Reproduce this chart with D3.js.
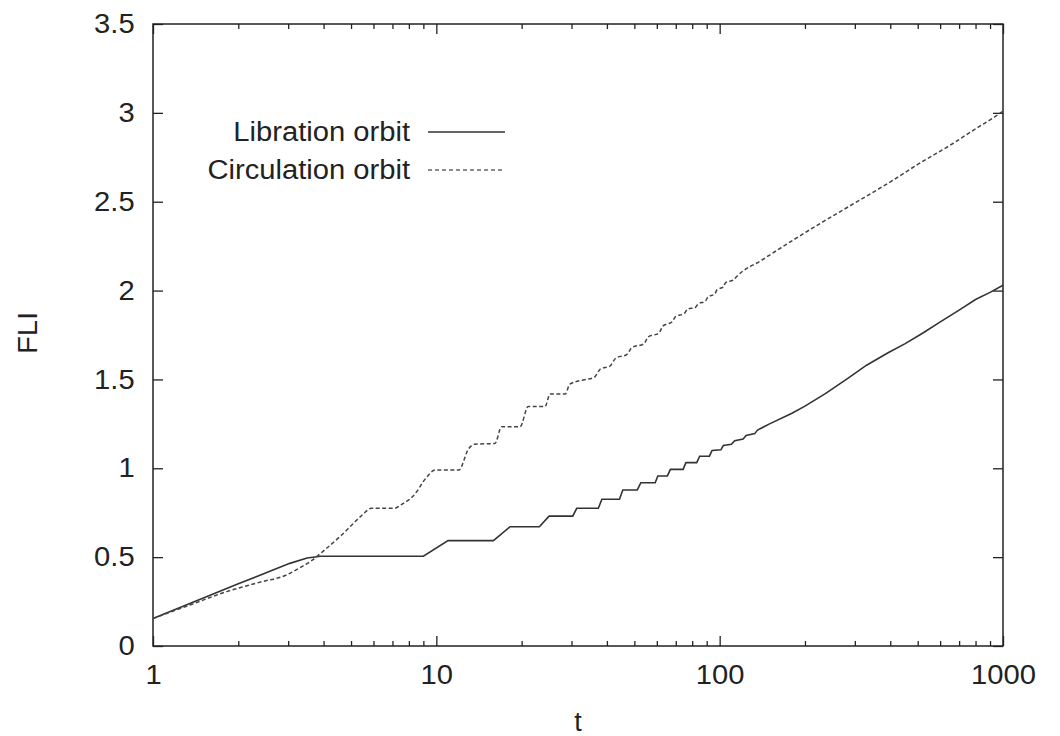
<!DOCTYPE html>
<html>
<head>
<meta charset="utf-8">
<script src="https://cdn.jsdelivr.net/npm/d3@7"></script>
<style>
  body { margin: 0; background: #fff; }
  text { font-family: "Liberation Sans", Arial, sans-serif; fill: #222; }
</style>
</head>
<body>
<div id="wrapper"></div>
<script>

// values

const librationT = [1, 2, 3.04, 3.5, 3.9, 9.0, 11.0, 15.9, 18.2, 23.1, 25.0, 30.3, 31.3, 37.3, 38.4, 44.3, 45.5, 51.2,
  52.7, 59.2, 60.5, 65.4, 67, 74.3, 76, 83, 85, 92, 94, 101, 103, 110, 113, 121, 124, 133, 136,
  150, 180, 200, 236, 280, 330, 393, 450, 520, 595, 700, 800, 900, 1000];
const librationFLI = [0.155, 0.35, 0.465, 0.495, 0.505, 0.505, 0.593, 0.593, 0.671, 0.671, 0.731, 0.731, 0.775, 0.775, 0.826, 0.826, 0.878, 0.878,
  0.919, 0.919, 0.957, 0.957, 0.994, 0.994, 1.032, 1.032, 1.068, 1.068, 1.100, 1.104, 1.128, 1.135, 1.155, 1.165, 1.185, 1.195, 1.215,
  1.25, 1.31, 1.35, 1.42, 1.50, 1.58, 1.65, 1.70, 1.76, 1.82, 1.89, 1.95, 1.99, 2.03];

const circulationT = [1, 1.4, 1.82, 2.4, 2.96, 3.3, 3.58, 4.1, 4.6, 5.1, 5.5, 5.9, 7.1, 7.6, 8.3, 9.25, 9.9, 12.0, 13.0, 13.6,
  16.1, 17.0, 19.75, 21.1, 24.2, 25.2, 28.5, 29.6, 33.0, 36, 38, 41, 43, 47, 49, 54, 56, 61, 63, 68, 70, 75, 77, 82, 84, 89, 91,
  96, 98, 103, 105, 112, 115, 141, 180, 232, 270, 313, 410, 500, 668, 800, 940, 1000];
const circulationFLI = [0.155, 0.24, 0.306, 0.36, 0.40, 0.44, 0.474, 0.55, 0.62, 0.69, 0.74, 0.775, 0.775, 0.80, 0.845, 0.95, 0.99, 0.99, 1.11, 1.135,
  1.14, 1.234, 1.234, 1.347, 1.347, 1.418, 1.418, 1.474, 1.497, 1.51, 1.56, 1.575, 1.62, 1.64, 1.68, 1.70, 1.74, 1.76, 1.80, 1.825, 1.855, 1.87, 1.895, 1.905, 1.925, 1.94, 1.965,
  1.98, 2.005, 2.02, 2.045, 2.06, 2.08, 2.172, 2.28, 2.388, 2.45, 2.51, 2.622, 2.71, 2.829, 2.91, 2.98, 3.01];

const xMajorTicks = [1, 10, 100, 1000];
const xMinorTicks = [2, 3, 4, 5, 6, 7, 8, 9, 20, 30, 40, 50, 60, 70, 80, 90, 200, 300, 400, 500, 600, 700, 800, 900];
const yTicks = [0, 0.5, 1, 1.5, 2, 2.5, 3, 3.5];

const seriesNames = ["Libration orbit", "Circulation orbit"];

// chart dimensions

const dimensions = {
  width: 1060,
  height: 736,
  margin: { top: 24, right: 57, bottom: 90, left: 153 },
};
dimensions.boundedWidth = dimensions.width - dimensions.margin.left - dimensions.margin.right;
dimensions.boundedHeight = dimensions.height - dimensions.margin.top - dimensions.margin.bottom;

const fontSize = 27;
const stretch = "scale(1.08,1)"; // the original lettering is a bit wider than Liberation Sans

const wrapper = d3.select("#wrapper")
  .append("svg")
  .attr("width", dimensions.width)
  .attr("height", dimensions.height);

const bounds = wrapper.append("g")
  .attr("transform", `translate(${dimensions.margin.left},${dimensions.margin.top})`);

// scales

const xScale = d3.scaleLog()
  .domain([1, 1000])
  .range([0, dimensions.boundedWidth]);

const yScale = d3.scaleLinear()
  .domain([0, 3.5])
  .range([dimensions.boundedHeight, 0]);

// axes (ticks point inward, mirrored on top and right)

const styleAxis = g => {
  g.select(".domain").remove();
  g.selectAll(".tick line").attr("stroke", "#222").attr("stroke-width", 1.3);
  g.selectAll("text")
    .attr("font-family", "Liberation Sans, Arial, sans-serif")
    .attr("font-size", fontSize)
    .attr("fill", "#222")
    .attr("transform", stretch);
};

bounds.append("g")
  .attr("transform", `translate(0,${dimensions.boundedHeight})`)
  .call(d3.axisBottom(xScale).tickValues(xMajorTicks).tickSize(-10).tickPadding(19).tickFormat(d3.format("d")))
  .call(styleAxis);
bounds.append("g")
  .attr("transform", `translate(0,${dimensions.boundedHeight})`)
  .call(d3.axisBottom(xScale).tickValues(xMinorTicks).tickSize(-5).tickFormat(""))
  .call(styleAxis);
bounds.append("g")
  .call(d3.axisTop(xScale).tickValues(xMajorTicks).tickSize(-10).tickFormat(""))
  .call(styleAxis);
bounds.append("g")
  .call(d3.axisTop(xScale).tickValues(xMinorTicks).tickSize(-5).tickFormat(""))
  .call(styleAxis);

bounds.append("g")
  .call(d3.axisLeft(yScale).tickValues(yTicks).tickSize(-10).tickPadding(17).tickFormat(d3.format("")))
  .call(styleAxis);
bounds.append("g")
  .attr("transform", `translate(${dimensions.boundedWidth},0)`)
  .call(d3.axisRight(yScale).tickValues(yTicks).tickSize(-10).tickFormat(""))
  .call(styleAxis);

bounds.append("rect")
  .attr("width", dimensions.boundedWidth)
  .attr("height", dimensions.boundedHeight)
  .attr("fill", "none")
  .attr("stroke", "#222")
  .attr("stroke-width", 1.5);

// lines

const libration = librationT.map((t, i) => ({ t, v: librationFLI[i] }));
const circulation = circulationT.map((t, i) => ({ t, v: circulationFLI[i] }));

const lineGenerator = d3.line()
  .x(d => xScale(d.t))
  .y(d => yScale(d.v));

bounds.append("path")
  .attr("d", lineGenerator(libration))
  .attr("fill", "none")
  .attr("stroke", "#333")
  .attr("stroke-width", 1.6);

bounds.append("path")
  .attr("d", lineGenerator.curve(d3.curveMonotoneX)(circulation))
  .attr("fill", "none")
  .attr("stroke", "#444")
  .attr("stroke-width", 1.5)
  .attr("stroke-dasharray", "4,2.5");

// legend

const legend = wrapper.append("g");
const legendStyles = [
  { stroke: "#333", dash: null },
  { stroke: "#666", dash: "4,3" },
];
seriesNames.forEach((name, i) => {
  const y = 132 + i * 38;
  legend.append("g")
    .attr("transform", `translate(410,${y}) ${stretch}`)
    .append("text")
    .attr("dy", "0.35em")
    .attr("text-anchor", "end")
    .attr("font-size", fontSize)
    .text(name);
  legend.append("line")
    .attr("x1", 428)
    .attr("x2", 505)
    .attr("y1", y)
    .attr("y2", y)
    .attr("stroke", legendStyles[i].stroke)
    .attr("stroke-width", 1.6)
    .attr("stroke-dasharray", legendStyles[i].dash);
});

// axis labels

wrapper.append("text")
  .attr("x", 578)
  .attr("y", 722)
  .attr("dy", "0.35em")
  .attr("text-anchor", "middle")
  .attr("font-size", fontSize)
  .text("t");

wrapper.append("text")
  .attr("transform", "translate(28,333) rotate(-90) scale(1.08,1)")
  .attr("dy", "0.35em")
  .attr("text-anchor", "middle")
  .attr("font-size", fontSize)
  .text("FLI");

</script>
</body>
</html>
